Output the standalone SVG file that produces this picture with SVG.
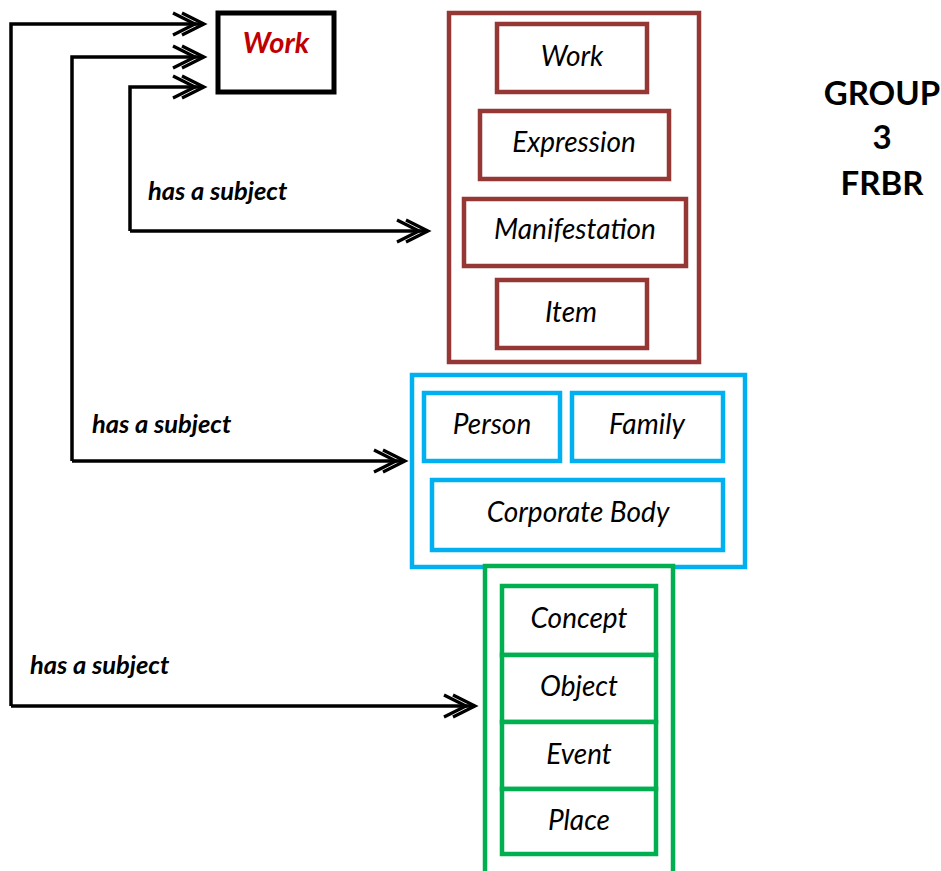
<svg xmlns="http://www.w3.org/2000/svg" width="941" height="871" viewBox="0 0 941 871">
<defs>
<marker id="dbl" markerUnits="userSpaceOnUse" markerWidth="40" markerHeight="30" viewBox="-34 -15 40 30" refX="0" refY="0" orient="auto" overflow="visible">
<path d="M-22,-11 L0,0 L-22,11 M-31,-11 L-9,0 L-31,11" fill="none" stroke="#000" stroke-width="3.2" stroke-linejoin="miter"/>
</marker>
<style>
.conn{fill:none;stroke:#000;stroke-width:3.5;marker-end:url(#dbl)}
.mar{fill:#fff;stroke:#953735;stroke-width:4.5}
.blu{fill:#fff;stroke:#00b0f0;stroke-width:4.5}
.grn{fill:#fff;stroke:#00b050;stroke-width:4.5}
.lbl{font-family:Lato,"Open Sans",sans-serif;font-style:italic;font-size:28px;fill:#000;text-anchor:middle}
.sub{font-family:Lato,"Open Sans",sans-serif;font-style:italic;font-weight:bold;font-size:25.5px;fill:#000}
.grp{font-family:Lato,"Open Sans",sans-serif;font-weight:bold;font-size:33px;fill:#000;text-anchor:middle}
</style>
</defs>
<rect width="941" height="871" fill="#fff"/>
<g id="connectors">
<path class="conn" d="M11,706 L11,24 L204,24"/>
<path class="conn" d="M72,461 L72,57 L204,57"/>
<path class="conn" d="M130,231 L130,87 L204,87"/>
<path class="conn" d="M130,231 L428,231"/>
<path class="conn" d="M72,461 L405,461"/>
<path class="conn" d="M11,706 L475,706"/>
<text class="sub" x="148" y="200">has a subject</text>
<text class="sub" x="92" y="433">has a subject</text>
<text class="sub" x="30" y="674">has a subject</text>
</g>
<g id="work-main">
<rect x="218" y="13" width="116" height="79" fill="#fff" stroke="#000" stroke-width="5"/>
<text x="276" y="53" font-family="Lato,'Open Sans',sans-serif" font-weight="bold" font-style="italic" font-size="29" fill="#c00000" text-anchor="middle">Work</text>
</g>
<g id="group1">
<rect class="mar" x="449" y="13" width="250" height="349"/>
<g id="g1-work"><rect class="mar" x="497" y="24" width="150" height="68"/><text class="lbl" x="572" y="66">Work</text></g>
<g id="g1-expression"><rect class="mar" x="480" y="111" width="189" height="68"/><text class="lbl" x="574" y="152">Expression</text></g>
<g id="g1-manifestation"><rect class="mar" x="464" y="199" width="222" height="67"/><text class="lbl" x="575" y="239">Manifestation</text></g>
<g id="g1-item"><rect class="mar" x="497" y="280" width="150" height="68"/><text class="lbl" x="571" y="322">Item</text></g>
</g>
<g id="group2">
<rect class="blu" x="412" y="375" width="333" height="192"/>
<g id="g2-person"><rect class="blu" x="424" y="393" width="136" height="68"/><text class="lbl" x="492" y="434">Person</text></g>
<g id="g2-family"><rect class="blu" x="572" y="393" width="151" height="68"/><text class="lbl" x="647" y="434">Family</text></g>
<g id="g2-corporate"><rect class="blu" x="432" y="480" width="291" height="70"/><text class="lbl" x="578" y="522">Corporate Body</text></g>
</g>
<g id="group3">
<rect class="grn" x="485" y="566" width="188" height="310"/>
<g id="g3-concept"><rect class="grn" x="502" y="586" width="154" height="69"/><text class="lbl" x="579" y="628">Concept</text></g>
<g id="g3-object"><rect class="grn" x="502" y="655" width="154" height="67"/><text class="lbl" x="579" y="696">Object</text></g>
<g id="g3-event"><rect class="grn" x="502" y="722" width="154" height="67"/><text class="lbl" x="579" y="764">Event</text></g>
<g id="g3-place"><rect class="grn" x="502" y="789" width="154" height="65"/><text class="lbl" x="579" y="830">Place</text></g>
</g>
<g id="title">
<text class="grp" x="882" y="105">GROUP</text>
<text class="grp" x="882" y="149">3</text>
<text class="grp" x="882" y="195">FRBR</text>
</g>
</svg>
